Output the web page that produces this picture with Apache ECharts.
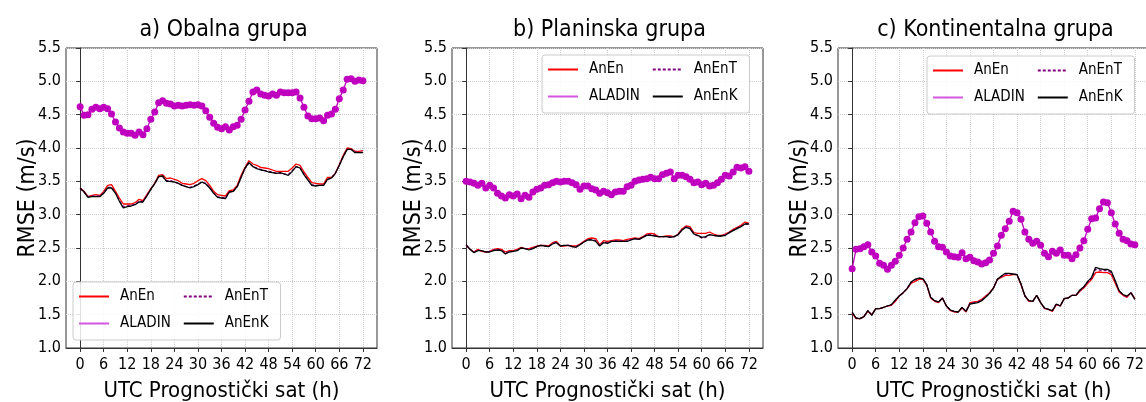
<!DOCTYPE html>
<html>
<head>
<meta charset="utf-8">
<script src="https://cdn.jsdelivr.net/npm/echarts@6/dist/echarts.min.js"></script>
<style>
html, body { margin: 0; padding: 0; background: #fff; }
#main { width: 1146px; height: 402px; }
</style>
</head>
<body>
<div id="main"></div>
<script>
var FONT = '"DejaVu Sans Condensed", "DejaVu Sans", sans-serif';

var TITLES = ['a) Obalna grupa', 'b) Planinska grupa', 'c) Kontinentalna grupa'];
var SERIES_NAMES = ['AnEn', 'ALADIN', 'AnEnT', 'AnEnK'];
var X_TICKS = [0, 6, 12, 18, 24, 30, 36, 42, 48, 54, 60, 66, 72];

// a) Obalna grupa
var A_ANEN = [
  3.40,3.35,3.27,3.29,3.30,3.29,3.35,3.44,3.45,3.35,
  3.25,3.16,3.16,3.16,3.18,3.23,3.21,3.30,3.39,3.47,
  3.59,3.60,3.54,3.55,3.53,3.51,3.47,3.46,3.45,3.47,
  3.51,3.54,3.51,3.44,3.35,3.30,3.29,3.28,3.36,3.37,
  3.44,3.59,3.71,3.81,3.76,3.74,3.71,3.70,3.69,3.67,
  3.65,3.65,3.65,3.65,3.70,3.76,3.74,3.64,3.56,3.48,
  3.47,3.46,3.46,3.56,3.56,3.62,3.75,3.89,4.00,3.99,
  3.95,3.95,3.96];
var A_ALADIN = [
  4.62,4.49,4.50,4.58,4.61,4.59,4.61,4.59,4.51,4.39,
  4.30,4.24,4.22,4.22,4.19,4.24,4.20,4.29,4.43,4.54,
  4.68,4.71,4.67,4.66,4.63,4.64,4.63,4.64,4.65,4.64,
  4.65,4.63,4.56,4.46,4.37,4.31,4.29,4.32,4.27,4.32,
  4.34,4.43,4.57,4.70,4.84,4.87,4.81,4.79,4.78,4.81,
  4.79,4.84,4.83,4.83,4.83,4.84,4.75,4.61,4.48,4.44,
  4.44,4.45,4.41,4.49,4.51,4.58,4.74,4.87,5.03,5.04,
  5.00,5.02,5.01];
var A_ANENT = [
  3.39,3.34,3.27,3.28,3.28,3.28,3.33,3.41,3.41,3.33,
  3.21,3.12,3.13,3.14,3.16,3.20,3.20,3.29,3.38,3.46,
  3.57,3.57,3.51,3.51,3.49,3.47,3.44,3.42,3.41,3.43,
  3.46,3.49,3.47,3.41,3.33,3.27,3.26,3.25,3.34,3.35,
  3.42,3.56,3.69,3.78,3.72,3.70,3.68,3.66,3.65,3.64,
  3.62,3.62,3.61,3.60,3.66,3.72,3.70,3.61,3.52,3.45,
  3.44,3.44,3.44,3.53,3.55,3.62,3.74,3.87,3.98,3.98,
  3.94,3.93,3.94];
var A_ANENK = [
  3.40,3.34,3.26,3.27,3.27,3.27,3.32,3.40,3.40,3.32,
  3.20,3.10,3.12,3.13,3.15,3.19,3.19,3.28,3.38,3.47,
  3.57,3.58,3.50,3.50,3.49,3.47,3.44,3.42,3.40,3.42,
  3.45,3.49,3.46,3.40,3.32,3.26,3.25,3.24,3.34,3.35,
  3.42,3.56,3.70,3.78,3.72,3.69,3.67,3.66,3.64,3.63,
  3.62,3.63,3.61,3.59,3.65,3.72,3.70,3.60,3.52,3.44,
  3.43,3.44,3.44,3.53,3.55,3.62,3.74,3.87,3.98,3.98,
  3.93,3.93,3.93];

// b) Planinska grupa
var B_ANEN = [
  2.54,2.48,2.44,2.48,2.45,2.44,2.45,2.48,2.49,2.48,
  2.44,2.46,2.46,2.48,2.51,2.49,2.49,2.51,2.53,2.54,
  2.54,2.53,2.58,2.60,2.53,2.53,2.54,2.53,2.53,2.56,
  2.60,2.64,2.65,2.64,2.55,2.61,2.60,2.61,2.62,2.62,
  2.61,2.63,2.64,2.65,2.64,2.67,2.71,2.72,2.71,2.67,
  2.67,2.68,2.68,2.67,2.71,2.79,2.83,2.82,2.73,2.72,
  2.72,2.72,2.74,2.71,2.69,2.69,2.71,2.74,2.78,2.81,
  2.84,2.89,2.87];
var B_ALADIN = [
  3.50,3.49,3.47,3.44,3.47,3.40,3.44,3.40,3.32,3.28,
  3.25,3.30,3.28,3.31,3.24,3.29,3.26,3.34,3.38,3.40,
  3.44,3.45,3.48,3.50,3.49,3.50,3.50,3.48,3.45,3.38,
  3.43,3.43,3.39,3.37,3.32,3.35,3.33,3.30,3.34,3.35,
  3.35,3.42,3.44,3.50,3.52,3.53,3.54,3.56,3.54,3.54,
  3.60,3.62,3.64,3.54,3.59,3.59,3.57,3.53,3.48,3.49,
  3.45,3.47,3.43,3.44,3.48,3.53,3.59,3.58,3.64,3.71,
  3.70,3.72,3.65];
var B_ANENT = [
  2.54,2.48,2.44,2.47,2.46,2.44,2.45,2.47,2.48,2.47,
  2.42,2.45,2.45,2.47,2.50,2.49,2.48,2.50,2.52,2.54,
  2.53,2.52,2.57,2.59,2.53,2.54,2.54,2.52,2.52,2.55,
  2.59,2.63,2.63,2.61,2.54,2.59,2.58,2.60,2.61,2.61,
  2.60,2.61,2.63,2.64,2.63,2.66,2.70,2.70,2.69,2.67,
  2.67,2.67,2.67,2.67,2.70,2.78,2.82,2.80,2.71,2.68,
  2.65,2.66,2.70,2.69,2.68,2.68,2.70,2.73,2.77,2.80,
  2.83,2.86,2.86];
var B_ANENK = [
  2.55,2.48,2.43,2.46,2.46,2.44,2.44,2.46,2.47,2.46,
  2.41,2.44,2.45,2.46,2.50,2.49,2.47,2.49,2.52,2.54,
  2.53,2.52,2.56,2.58,2.53,2.54,2.54,2.52,2.51,2.55,
  2.59,2.62,2.62,2.60,2.53,2.58,2.57,2.60,2.60,2.60,
  2.60,2.60,2.62,2.64,2.63,2.66,2.69,2.69,2.68,2.67,
  2.67,2.67,2.66,2.67,2.70,2.77,2.81,2.79,2.71,2.69,
  2.66,2.67,2.70,2.69,2.68,2.68,2.69,2.73,2.76,2.79,
  2.82,2.86,2.86];

// c) Kontinentalna grupa
var C_ANEN = [
  1.52,1.44,1.44,1.47,1.55,1.50,1.59,1.59,1.61,1.63,
  1.64,1.70,1.78,1.83,1.89,1.97,2.00,2.03,2.03,1.94,
  1.75,1.70,1.68,1.75,1.63,1.56,1.54,1.54,1.60,1.54,
  1.68,1.69,1.70,1.73,1.78,1.83,1.90,2.03,2.06,2.09,
  2.09,2.10,2.10,1.95,1.78,1.70,1.70,1.79,1.68,1.59,
  1.58,1.55,1.65,1.63,1.74,1.75,1.79,1.79,1.85,1.90,
  1.97,2.03,2.13,2.14,2.13,2.13,2.10,1.97,1.84,1.79,
  1.76,1.83,1.74];
var C_ALADIN = [
  2.19,2.48,2.49,2.52,2.55,2.44,2.38,2.27,2.24,2.18,
  2.24,2.30,2.39,2.50,2.63,2.74,2.88,2.97,2.98,2.87,
  2.74,2.60,2.52,2.51,2.44,2.38,2.37,2.36,2.43,2.34,
  2.36,2.31,2.29,2.26,2.28,2.32,2.42,2.53,2.69,2.79,
  2.90,3.05,3.03,2.93,2.74,2.63,2.57,2.60,2.54,2.42,
  2.37,2.45,2.42,2.47,2.39,2.39,2.34,2.40,2.50,2.61,
  2.78,2.94,2.95,3.09,3.19,3.18,3.03,2.86,2.72,2.63,
  2.61,2.56,2.55];
var C_ANENT = [
  1.53,1.45,1.44,1.47,1.56,1.50,1.59,1.59,1.61,1.63,
  1.65,1.71,1.78,1.83,1.89,1.98,2.02,2.04,2.04,1.95,
  1.76,1.71,1.69,1.75,1.63,1.57,1.55,1.54,1.61,1.55,
  1.67,1.68,1.69,1.72,1.77,1.82,1.90,2.03,2.07,2.11,
  2.11,2.11,2.10,1.96,1.78,1.71,1.70,1.79,1.68,1.60,
  1.58,1.56,1.66,1.63,1.74,1.75,1.79,1.79,1.86,1.91,
  1.99,2.05,2.18,2.17,2.16,2.16,2.13,2.00,1.85,1.80,
  1.77,1.83,1.73];
var C_ANENK = [
  1.54,1.45,1.44,1.47,1.56,1.49,1.59,1.59,1.61,1.63,
  1.65,1.72,1.78,1.83,1.89,1.99,2.03,2.05,2.04,1.95,
  1.76,1.71,1.69,1.75,1.63,1.57,1.55,1.54,1.61,1.55,
  1.66,1.67,1.68,1.71,1.76,1.82,1.90,2.03,2.08,2.12,
  2.12,2.11,2.10,1.96,1.78,1.71,1.70,1.79,1.68,1.60,
  1.58,1.56,1.66,1.63,1.74,1.75,1.79,1.79,1.87,1.92,
  2.00,2.06,2.21,2.19,2.18,2.18,2.15,2.01,1.86,1.80,
  1.78,1.83,1.73];

var PANELS = [
  [A_ANEN, A_ALADIN, A_ANENT, A_ANENK],
  [B_ANEN, B_ALADIN, B_ANENT, B_ANENK],
  [C_ANEN, C_ALADIN, C_ANENT, C_ANENK]
];

var COLORS = ['#ff0000', '#bf00bf', '#800080', '#000000'];

var gridLefts = [66, 452, 838];
var gridTop = 48, gridH = 300, gridW = 311;
var legendPos = [[73, 282], [542, 55], [927, 56]];

var dom = document.getElementById('main');
var myChart = echarts.init(dom, null, { renderer: 'canvas' });

var toPairs = function (arr) {
    return arr.map(function (v, i) { return [i, v]; });
};

var grids = [], xAxes = [], yAxes = [], titles = [], legends = [], series = [];

PANELS.forEach(function (panel, p) {
    grids.push({
        left: gridLefts[p], top: gridTop, width: gridW, height: gridH,
        outerBoundsMode: 'none', containLabel: false,
        show: true, borderColor: '#333', borderWidth: 1, backgroundColor: '#fff'
    });
    titles.push({
        text: TITLES[p],
        left: gridLefts[p] + gridW / 2 - 3, top: 14, textAlign: 'center',
        textStyle: { fontFamily: FONT, fontSize: 23, fontWeight: 'normal', color: '#000' }
    });
    xAxes.push({
        type: 'value', gridIndex: p, min: -3.6, max: 75.6,
        name: 'UTC Prognostički sat (h)', nameLocation: 'middle', nameGap: 32,
        nameMoveOverlap: false,
        nameTextStyle: { fontFamily: FONT, fontSize: 22, color: '#000' },
        axisLine: { show: true, lineStyle: { color: '#333' } },
        axisTick: { show: true, length: 4, customValues: X_TICKS, lineStyle: { color: '#333' } },
        axisLabel: { customValues: X_TICKS, fontFamily: FONT, fontSize: 16, color: '#000', margin: 9 },
        splitLine: { show: true, lineStyle: { color: '#cfcfcf', type: 'dotted', width: 1 } }
    });
    yAxes.push({
        type: 'value', gridIndex: p, min: 1.0, max: 5.5, interval: 0.5,
        name: 'RMSE (m/s)', nameLocation: 'middle', nameGap: 26,
        nameMoveOverlap: false,
        nameTextStyle: { fontFamily: FONT, fontSize: 23, color: '#000' },
        axisLine: { show: true, lineStyle: { color: '#333' } },
        axisTick: { show: true, length: 4, lineStyle: { color: '#333' } },
        axisLabel: {
            fontFamily: FONT, fontSize: 16, color: '#000', margin: 5,
            formatter: function (v) { return v.toFixed(1); }
        },
        splitLine: { show: true, lineStyle: { color: '#cfcfcf', type: 'dotted', width: 1 } }
    });
    legends.push({
        orient: 'vertical', left: legendPos[p][0], top: legendPos[p][1], height: 46,
        selectedMode: false,
        data: [
            { name: 'AnEn' },
            { name: 'ALADIN', lineStyle: { color: '#d455e0', width: 2 } },
            { name: 'AnEnT' },
            { name: 'AnEnK' }
        ],
        itemStyle: { opacity: 0 },
        itemWidth: 30, itemHeight: 14, itemGap: 12,
        padding: [7, 12, 9, 5],
        backgroundColor: 'rgba(255,255,255,0.85)',
        borderColor: '#cccccc', borderWidth: 1, borderRadius: 3,
        textStyle: { fontFamily: FONT, fontSize: 15, color: '#000', padding: [0, 16, 0, 6] }
    });

    SERIES_NAMES.forEach(function (name, s) {
        var isAladin = name === 'ALADIN';
        series.push({
            name: name, type: 'line', xAxisIndex: p, yAxisIndex: p,
            data: toPairs(panel[s]),
            symbol: isAladin ? 'circle' : 'none',
            symbolSize: 7,
            showSymbol: isAladin,
            silent: true,
            animation: false,
            z: isAladin ? 3 : 2 + s * 0.1,
            itemStyle: { color: COLORS[s] },
            lineStyle: {
                color: COLORS[s],
                width: 1.3,
                type: name === 'AnEnT' ? [3, 2] : 'solid'
            }
        });
    });
});

var option = {
    backgroundColor: '#fff',
    animation: false,
    title: titles,
    legend: legends,
    grid: grids,
    xAxis: xAxes,
    yAxis: yAxes,
    series: series
};

if (option && typeof option === "object") {
    myChart.setOption(option, true);
}
</script>
</body>
</html>
